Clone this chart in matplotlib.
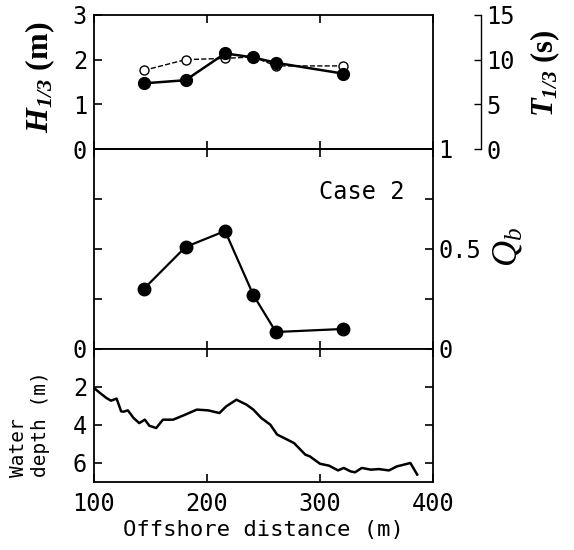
import numpy as np
import matplotlib
matplotlib.use('Agg')
import matplotlib.pyplot as plt

plt.rcParams['font.family'] = ['DejaVu Sans Mono']
plt.rcParams['mathtext.fontset'] = 'custom'
plt.rcParams['mathtext.it'] = 'Liberation Serif:italic'
plt.rcParams['mathtext.bf'] = 'Liberation Serif:italic:bold'
plt.rcParams['mathtext.rm'] = 'Liberation Serif'

# measurement stations
xStations = [144, 181, 216, 241, 261, 320]
hSig = [1.47, 1.54, 2.14, 2.05, 1.93, 1.69]
tSig = [8.8, 10.0, 10.15, 10.3, 9.3, 9.3]
qBreak = [0.30, 0.51, 0.59, 0.27, 0.085, 0.10]

# bottom profile
xDepth = [100, 105, 111, 115, 120, 124, 126, 130, 135, 140, 145, 149, 155, 161, 170,
          179, 191, 201, 211, 217, 226, 235, 241, 248, 256, 262, 268, 277, 287, 291,
          300, 308, 316, 321, 327, 331, 337, 345, 352, 361, 368, 380, 386]
depth = [2.05, 2.3, 2.58, 2.72, 2.61, 3.28, 3.3, 3.23, 3.63, 3.9, 3.72, 4.04, 4.16, 3.72, 3.72,
         3.5, 3.19, 3.23, 3.37, 3.02, 2.67, 2.93, 3.19, 3.63, 3.98, 4.5, 4.68, 4.95, 5.56, 5.65,
         6.04, 6.14, 6.39, 6.26, 6.44, 6.49, 6.26, 6.35, 6.32, 6.39, 6.18, 6.0, 6.61]

W, H = 574, 550
fig = plt.figure(figsize=(W / 100, H / 100), dpi=100)

def box(top, bottom):
    return [94 / W, 1 - bottom / H, (433 - 94) / W, (bottom - top) / H]

ax1 = fig.add_axes(box(15, 149))
ax2 = fig.add_axes(box(149, 349), sharex=ax1)
ax3 = fig.add_axes(box(349, 482), sharex=ax1)

for ax in (ax1, ax2, ax3):
    for s in ax.spines.values():
        s.set_linewidth(1.3)
    ax.tick_params(direction='in', length=6, width=1.2, top=True, right=True,
                   labelsize=17, pad=5)
    ax.set_xticks([100, 200, 300, 400])
    ax.set_xlim(100, 400)

ax1.tick_params(labelbottom=False)
ax2.tick_params(labelbottom=False, labelleft=False, labelright=True, pad=4)
ax3.tick_params(axis='x', pad=7)

# top: wave height and period
ax1.set_ylim(0, 3)
ax1.set_yticks([0, 1, 2, 3])
ax1.plot(xStations, hSig, '-o', color='black', lw=1.8, ms=8.5, zorder=4)

axT = ax1.twinx()
axT.set_ylim(0, 15)
axT.set_yticks([0, 5, 10, 15])
for k in ('top', 'bottom', 'left'):
    axT.spines[k].set_visible(False)
axT.spines['right'].set_position(('axes', (481 - 94) / (433 - 94)))
axT.spines['right'].set_linewidth(1.0)
axT.tick_params(direction='in', length=5, width=1.0, labelsize=17, pad=4)
axT.plot(xStations, tSig, '--o', color='black', lw=1.0, ms=6.5, mfc='white', mew=1.0, zorder=3)
ax1.set_zorder(axT.get_zorder() + 1)
ax1.patch.set_visible(False)

# middle: fraction of breaking waves
ax2.set_ylim(0, 1)
ax2.set_yticks([0, 0.25, 0.5, 0.75, 1])
ax2.set_yticklabels(['0', '', '0.5', '', '1'])
ax2.plot(xStations, qBreak, '-o', color='black', lw=1.6, ms=9)
ax2.text(337, 0.785, 'Case 2', fontsize=17, ha='center', va='center')

# bottom: water depth
ax3.set_ylim(7, 0)
ax3.set_yticks([0, 2, 4, 6])
ax3.plot(xDepth, depth, color='black', lw=1.8)
ax3.set_xlabel('Offshore distance (m)', fontsize=16, labelpad=3)

fig.text(40 / W, 1 - 77 / H, r'$\mathbf{H_{1/3}}$ (m)', family='Liberation Serif', weight='bold',
         fontsize=23, rotation=90, ha='center', va='center')
fig.text(545 / W, 1 - 73 / H, r'$\mathbf{T_{1/3}}$ (s)', family='Liberation Serif', weight='bold',
         fontsize=22, rotation=90, ha='center', va='center')
fig.text(507 / W, 1 - 247 / H, r'$Q_b$', fontsize=26, rotation=90, ha='center', va='center')
fig.text(30 / W, 1 - 477 / H, 'Water\ndepth (m)', fontsize=14, rotation=90,
         ha='center', va='bottom', multialignment='left')

fig.savefig('out.png', dpi=100)
